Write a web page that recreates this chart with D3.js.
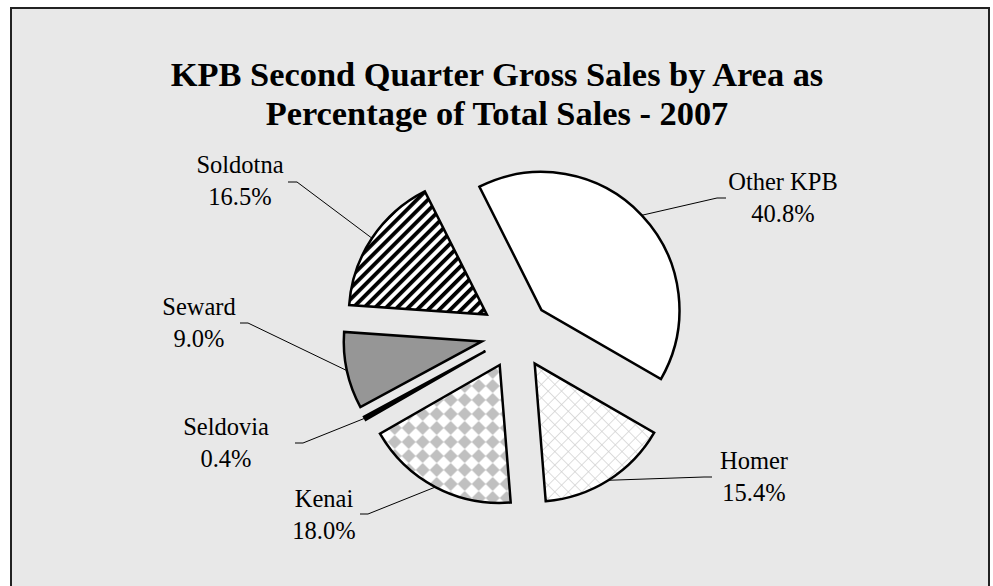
<!DOCTYPE html>
<html>
<head>
<meta charset="utf-8">
<script src="https://cdn.jsdelivr.net/npm/d3@7"></script>
<style>
  body { margin: 0; background: #fff; }
  text { font-family: "Liberation Serif", "Times New Roman", serif; }
</style>
</head>
<body>
<script>
// data
var areas = ["Other KPB", "Homer", "Kenai", "Seldovia", "Seward", "Soldotna"];
var shares = [40.8, 15.4, 18.0, 0.4, 9.0, 16.5];
var shareLabels = ["40.8%", "15.4%", "18.0%", "0.4%", "9.0%", "16.5%"];
var titleLines = ["KPB Second Quarter Gross Sales by Area as", "Percentage of Total Sales - 2007"];

var width = 993, height = 586;
var cx = 516, cy = 334, radius = 138, explode = 35;

// fills for each slice
var fills = ["#ffffff", "url(#crosshatch)", "url(#diamonds)", "#000000", "#969696", "url(#stripes)"];

// label placement: text centre x, first baseline, leader anchor + bend
var labelLayout = [
  {x: 783, y: 190, ax: 726, ay: 198, bx: 717},
  {x: 754, y: 469, ax: 712, ay: 477, bx: 704},
  {x: 324, y: 507, ax: 360, ay: 514, bx: 368},
  {x: 226, y: 435, ax: 295, ay: 443, bx: 303},
  {x: 199, y: 315, ax: 240, ay: 323, bx: 248},
  {x: 240, y: 173, ax: 288, ay: 182, bx: 297}
];

var svg = d3.select("body")
  .append("svg")
  .attr("width", width)
  .attr("height", height);

var defs = svg.append("defs");

// dark upward diagonal stripes
var stripes = defs.append("pattern")
  .attr("id", "stripes")
  .attr("patternUnits", "userSpaceOnUse")
  .attr("width", 7.8)
  .attr("height", 7.8)
  .attr("patternTransform", "rotate(45)");
stripes.append("rect").attr("width", 7.8).attr("height", 7.8).attr("fill", "#fff");
stripes.append("rect").attr("width", 3.8).attr("height", 7.8).attr("fill", "#000");

// grey diamonds on white
var diamonds = defs.append("pattern")
  .attr("id", "diamonds")
  .attr("patternUnits", "userSpaceOnUse")
  .attr("width", 14)
  .attr("height", 14);
diamonds.append("rect").attr("width", 14).attr("height", 14).attr("fill", "#fff");
diamonds.append("polygon")
  .attr("points", "7,0 14,7 7,14 0,7")
  .attr("fill", "#c0c0c0");

// light diagonal crosshatch
var cross = defs.append("pattern")
  .attr("id", "crosshatch")
  .attr("patternUnits", "userSpaceOnUse")
  .attr("width", 9.5)
  .attr("height", 9.5)
  .attr("patternTransform", "rotate(45)");
cross.append("rect").attr("width", 9.5).attr("height", 9.5).attr("fill", "#fff");
cross.append("line").attr("x1", 0).attr("y1", 0).attr("x2", 0).attr("y2", 9.5)
  .attr("stroke", "#cfcfcf").attr("stroke-width", 1.4);
cross.append("line").attr("x1", 0).attr("y1", 0).attr("x2", 9.5).attr("y2", 0)
  .attr("stroke", "#cfcfcf").attr("stroke-width", 1.4);

// chart area
svg.append("rect")
  .attr("x", 11)
  .attr("y", 8)
  .attr("width", 978)
  .attr("height", 600)
  .attr("fill", "#e8e8e8")
  .attr("stroke", "#222")
  .attr("stroke-width", 2);

// title
svg.selectAll(".title")
  .data(titleLines)
  .enter()
  .append("text")
  .attr("class", "title")
  .attr("x", 497)
  .attr("y", function(d, i) { return 86 + i * 39; })
  .attr("text-anchor", "middle")
  .attr("font-size", "34.4px")
  .attr("font-weight", "bold")
  .text(function(d) { return d; });

var data = areas.map(function(a, i) {
  return {name: a, value: shares[i], label: shareLabels[i], fill: fills[i], pos: labelLayout[i]};
});

var startDeg = -26.7;
var pie = d3.pie()
  .sort(null)
  .value(function(d) { return d.value; })
  .startAngle(startDeg * Math.PI / 180)
  .endAngle((startDeg + 360) * Math.PI / 180);

var arcs = pie(data);

var arc = d3.arc()
  .innerRadius(0)
  .outerRadius(radius);

function offset(d) {
  var mid = (d.startAngle + d.endAngle) / 2;
  return [explode * Math.sin(mid), -explode * Math.cos(mid)];
}

var g = svg.append("g")
  .attr("transform", "translate(" + cx + "," + cy + ")");

g.selectAll(".slice")
  .data(arcs)
  .enter()
  .append("path")
  .attr("class", "slice")
  .attr("transform", function(d) { var o = offset(d); return "translate(" + o[0] + "," + o[1] + ")"; })
  .attr("d", arc)
  .attr("fill", function(d) { return d.data.fill; })
  .attr("stroke", "#000")
  .attr("stroke-width", 2.5)
  .attr("stroke-linejoin", "miter");

// leader lines: from the middle of each arc to the label
g.selectAll(".leader")
  .data(arcs)
  .enter()
  .append("polyline")
  .attr("class", "leader")
  .attr("points", function(d) {
    var o = offset(d);
    var mid = (d.startAngle + d.endAngle) / 2;
    var px = o[0] + radius * Math.sin(mid);
    var py = o[1] - radius * Math.cos(mid);
    var p = d.data.pos;
    return [[px, py], [p.bx - cx, p.ay - cy], [p.ax - cx, p.ay - cy]].join(" ");
  })
  .attr("fill", "none")
  .attr("stroke", "#000")
  .attr("stroke-width", 1);

var labels = svg.selectAll(".label")
  .data(data)
  .enter()
  .append("text")
  .attr("class", "label")
  .attr("text-anchor", "middle")
  .attr("font-size", "24.5px");

labels.append("tspan")
  .attr("x", function(d) { return d.pos.x; })
  .attr("y", function(d) { return d.pos.y; })
  .text(function(d) { return d.name; });

labels.append("tspan")
  .attr("x", function(d) { return d.pos.x; })
  .attr("y", function(d) { return d.pos.y + 32; })
  .text(function(d) { return d.label; });
</script>
</body>
</html>
